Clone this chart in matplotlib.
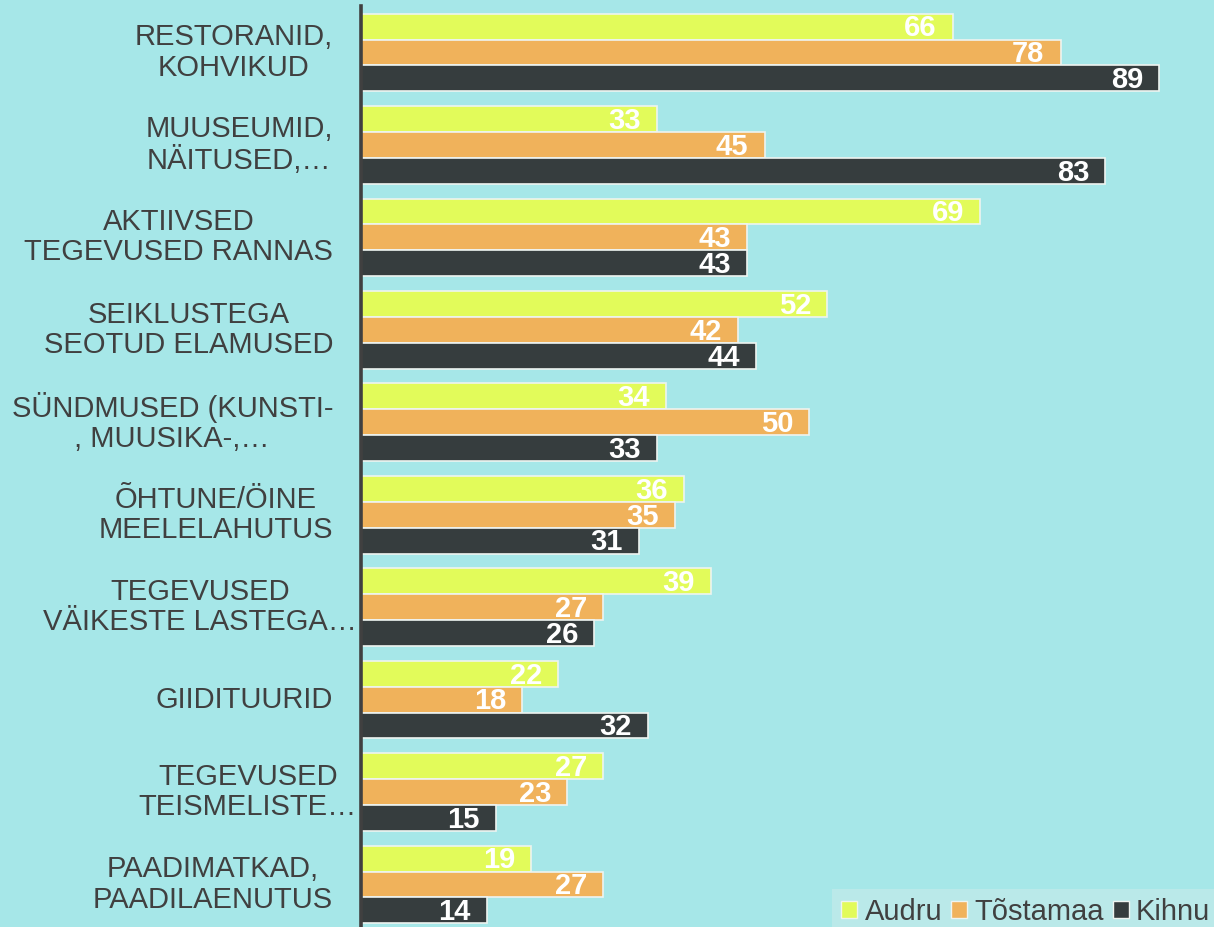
import numpy as np
import matplotlib.pyplot as plt
from matplotlib.patches import Patch

categories = [
    "RESTORANID,\nKOHVIKUD",
    "MUUSEUMID,\nNÄITUSED,…",
    "AKTIIVSED\nTEGEVUSED RANNAS",
    "SEIKLUSTEGA\nSEOTUD ELAMUSED",
    "SÜNDMUSED (KUNSTI-\n, MUUSIKA-,…",
    "ÕHTUNE/ÖINE\nMEELELAHUTUS",
    "TEGEVUSED\nVÄIKESTE LASTEGA…",
    "GIIDITUURID",
    "TEGEVUSED\nTEISMELISTE…",
    "PAADIMATKAD,\nPAADILAENUTUS",
]
audru = [66, 33, 69, 52, 34, 36, 39, 22, 27, 19]
tostamaa = [78, 45, 43, 42, 50, 35, 27, 18, 23, 27]
kihnu = [89, 83, 43, 44, 33, 31, 26, 32, 15, 14]

series = [("Audru", audru, "#e2fb5a"),
          ("Tõstamaa", tostamaa, "#f0b25b"),
          ("Kihnu", kihnu, "#363d3e")]

bg = "#a6e7e8"
text_col = "#404040"
plt.rcParams['font.family'] = ['Liberation Sans', 'DejaVu Sans']

fig = plt.figure(figsize=(12.14, 9.27), dpi=100, facecolor=bg)
ax = fig.add_axes([361 / 1214, 0, 1 - 361 / 1214, 1 - 6 / 927])
ax.set_facecolor(bg)

y = np.arange(len(categories))
h = 0.28
for k, (name, vals, col) in enumerate(series):
    pos = y + (k - 1) * h
    ax.barh(pos, vals, height=h, color=col, edgecolor="#eef4f0", linewidth=1.2, label=name)
    for p, v in zip(pos, vals):
        ax.text(v - 1.8, p + 0.02, str(v), ha="right", va="center", color="white",
                fontsize=21, fontweight="bold")

ax.set_xlim(0, 95.1)
ax.set_ylim(9.46, -0.503)
ax.set_xticks([])
ax.set_yticks([])
for s in ["top", "right", "bottom"]:
    ax.spines[s].set_visible(False)
ax.spines["left"].set_color(text_col)
ax.spines["left"].set_linewidth(2.6)

# category labels (two of them run past the axis like in the source)
wide = {6, 8}
for i, lab in enumerate(categories):
    xoff = -4 / 853 if i in wide else -28 / 853
    ax.text(xoff, i, lab, transform=ax.get_yaxis_transform(), ha="right", va="center",
            multialignment="center", fontsize=21, color=text_col, linespacing=1.1,
            clip_on=False)

handles = [Patch(facecolor=c, edgecolor="#eef4f0", label=n) for n, _, c in series]
leg = fig.legend(handles=handles, loc="lower right", bbox_to_anchor=(1.016, -0.024), ncol=3,
                 frameon=True, fontsize=21, handlelength=0.55, handleheight=0.55,
                 handletextpad=0.25, columnspacing=0.3, borderpad=0.3, fancybox=False)
leg.get_frame().set_facecolor("#c0eaea")
leg.get_frame().set_edgecolor("none")
for t in leg.get_texts():
    t.set_color(text_col)

fig.savefig("out.png", dpi=100, facecolor=bg)
